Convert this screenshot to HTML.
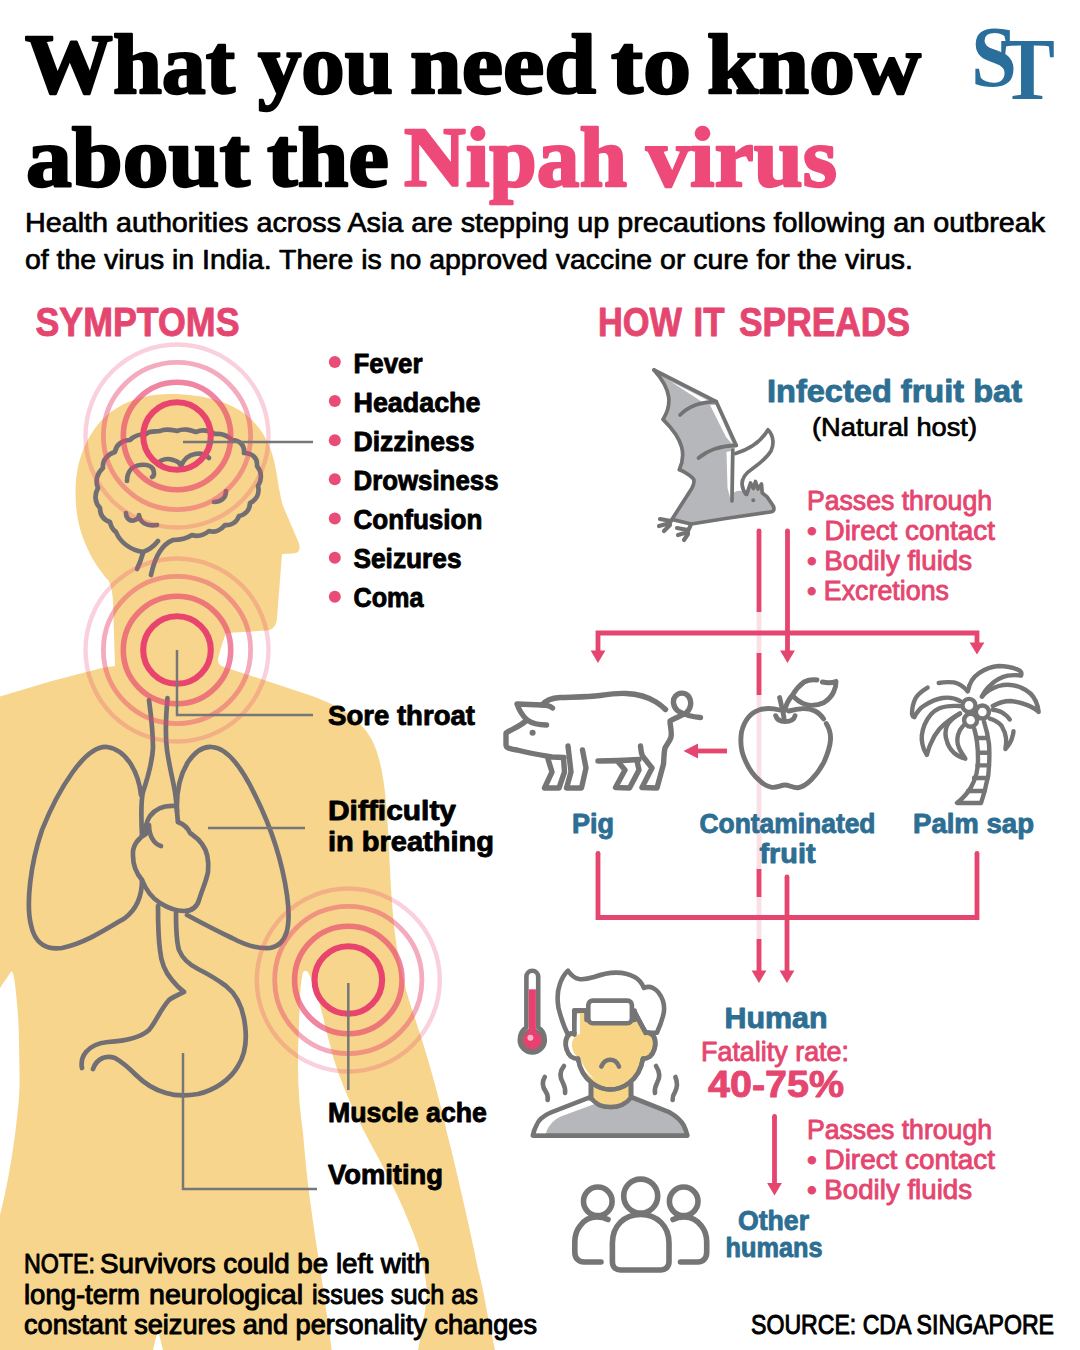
<!DOCTYPE html>
<html><head><meta charset="utf-8">
<style>
html,body{margin:0;padding:0;background:#fff;}
body{width:1080px;height:1350px;overflow:hidden;}
svg{display:block;}
text{font-family:"Liberation Sans",sans-serif;stroke:#000;stroke-width:.7px;stroke-linejoin:round;}
.serif, .serif text{font-family:"Liberation Serif",serif;font-weight:bold;}
.b, .b text{font-weight:bold;stroke-width:.9px;}
.t1 text{fill:#000;stroke:#000;stroke-width:2.4px;}
.t2 text{fill:#ee4a79;stroke:#ee4a79;stroke-width:2.4px;}
.pk, .pk text{fill:#e5466f;stroke:#e5466f;}
.pr text{stroke-width:.9px;}
.md text{stroke-width:1px;}
.bl, .bl text{fill:#2d6e93;stroke:#2d6e93;}
.g{fill:none;stroke:#757575;stroke-linecap:round;stroke-linejoin:round;}
.ln{fill:none;stroke:#777;stroke-width:2.5;stroke-linecap:butt;stroke-linejoin:miter;}
.ar{fill:none;stroke:#e5466f;stroke-width:4.8;stroke-linecap:butt;stroke-linejoin:miter;}
</style></head><body>
<svg width="1080" height="1350" viewBox="0 0 1080 1350">
<rect width="1080" height="1350" fill="#fff"/>

<!-- BODY SILHOUETTE -->
<g id="body" fill="#f7d58c">
<path d="M115,666 L113,600 C112,590 111,584 108,580 C92,562 78,535 76,505 C73,465 85,440 100,422 C118,402 145,394 170,394 C205,394 235,403 252,420 C265,433 272,450 275,465 C278,480 279,492 283,506 L298,541 C301,548 300,553 293,553.500 L282,554 L277,618 C276.500,626 273,630 266,630.500 L226,633 C222,644 219,654 218,659 C217.500,663 219,665.500 224,667 L267,681 L300,692
 C338,704 360,718 372,740 C383,762 386,795 388,830 C389,845 389.500,860 390,870 C391,890 392,905 394,925 C397,955 403,980 409,1000 C417,1025 424,1045 430,1066.700 C436,1088 442,1110 447,1133 C453,1156 458,1178 463,1200 C468,1222 473,1244 477.500,1266.700 C481,1280 484,1295 487,1312 C490,1327 493,1340 495,1350
 L418,1350 C421,1335 425,1315 427,1295 C427,1285 425,1275 423,1266.700 C420,1250 415,1236 408,1220 C402,1205 395,1190 388,1176.700 C378,1156 365,1135 355,1113 C347,1096 340,1078 334,1060 C330,1045 326,1030 323,1016.700 C319,1000 314,985 309,974 C307,969.500 303.500,969.500 302.500,974 C301,982 300,991 300,1000 C299,1022 298,1044 298,1066.700 C298,1090 300,1112 303,1133 C305,1156 307,1178 310,1200 C313,1222 316,1244 320,1266.700 C324,1295 328,1322 331.700,1350
 L0,1350 L0,1215 C6,1192 12,1160 16,1126.700 C18,1110 19.600,1095 19.600,1082 C19.600,1064 19,1046 18.700,1029 C18,1012 16.500,997 15,984 C14,976 12.500,969 10.500,972.500 C7,978 3,983 0,988 L0,696.500 L50,681.500 L100,668.500 C106,667 111,666.500 115,666 Z"/>
<path fill="#fff" d="M153,1350 C155,1342 156.500,1335 158,1331 C159.500,1335 161,1342 163,1350 Z"/>
</g>

<!-- ORGANS -->
<g id="organs" class="g" stroke-width="4.700" style="stroke:#716e74">
<!-- brain -->
<path d="M146,434 C150,430 156,432 160,431 C166,428 172,430 177,431 C184,428 190,430 196,432 C203,429 210,431 215,434 C222,433 228,436 232,440 C240,440 245,446 244,453 C252,453 258,458 257,466 C262,472 262,480 258,486 C260,494 256,500 250,503 C250,510 245,515 239,516 C237,522 231,526 225,525 C221,530 215,533 209,531 C204,535 198,537 192,535 C186,539 180,540 173,540 C163,544 155,556 151,575"/>
<path d="M146,434 C140,434 134,436 130,440 C122,440 116,445 115,452 C108,454 102,460 103,468 C97,473 95,481 98,488 C94,495 95,503 100,508 C100,515 104,520 110,522 C111,527 113,530 116,532 C120,542 130,550 143,552 C149,550 154,546 158,541"/>
<path d="M143,553 C141,560 139,565 137,569"/>
<path d="M127,481 C127,472 132,466 140,465 C146,464 151,466 153,469"/>
<path d="M153,469 C155,474 154,476 152,477"/>
<path d="M158,463 C162,459 168,458 173,460 C177,461 180,463 181,466 C184,459 189,455 195,454 C201,453 206,455 209,458"/>
<path d="M214,502 C220,502 226,499 226,491"/>
<path d="M126,513 C126,519 131,522 135,520 C138,519 139,517 139,515 C140,522 146,527 157,525"/>
<!-- trachea -->
<path d="M149,700 C151,715 153,735 153,748 C152,765 147,780 143,792 C141,800 141,815 142,836"/>
<path d="M167.500,698 C166,715 165,735 167,750 C169,765 173,780 175,792 C177,805 177,815 178,822"/>
<!-- left lung -->
<path d="M141,795 C139,775 128,750 107,747 C85,745 58,790 42,830 C30,865 26,905 31,925 C35,945 48,950 62,948 C85,943 105,930 125,918 C138,908 142,895 142,880"/>
<!-- right lung -->
<path d="M177,812 C176,790 180,775 188,762 C195,752 203,746 212,747 C228,748 243,770 255,795 C270,825 282,860 287,895 C291,925 288,945 270,948 C258,949 245,945 232,938 C215,930 200,922 187,915"/>
<!-- heart -->
<path d="M176,806 C166,805 156,808 150,816 C146,822 145,828 146,834 C138,838 132,846 133,856 C133,866 137,874 142,880 C146,890 152,898 160,903 C168,908 176,911 184,911 C192,911 197,907 199,900 C202,890 206,882 208,872 C209,862 208,852 202,844 C198,838 194,836 190,833 C188,828 183,824 178,822"/>
<path d="M149,825 C149,836 154,844 161,846"/>
<!-- esophagus + stomach -->
<path d="M158,906 C158,920 158,935 160,950 C161,962 165,972 172,980 C176,985 180,989 184,992 C178,995 173,997 169,1000 C160,1010 156,1022 149,1030 C140,1038 125,1041 108,1042 C98,1043 90,1047 86,1052 C82,1057 81,1063 82,1068"/>
<path d="M176,913 C176,925 176,940 179,950 C183,960 190,965 198,969 C208,974 218,980 226,986 C236,994 243,1008 245,1025 C247,1040 245,1055 238,1066 C230,1080 215,1090 198,1094 C187,1096 176,1096 166,1093 C155,1090 145,1084 136,1075 C128,1067 122,1062 115,1058 C106,1055 97,1058 93,1069"/>
</g>

<!-- RINGS -->
<g id="rings" fill="none">
<g transform="translate(177,436)">
<circle r="91.500" stroke="#e8446e" stroke-opacity="0.25" stroke-width="4.400"/>
<circle r="73.600" stroke="#e8446e" stroke-opacity="0.45" stroke-width="4.800"/>
<circle r="53.700" stroke="#e8446e" stroke-opacity="0.65" stroke-width="5.600"/>
<circle r="33.800" stroke="#e8446e" stroke-width="6.100"/>
</g>
<g transform="translate(177,650)">
<circle r="91.500" stroke="#e8446e" stroke-opacity="0.25" stroke-width="4.400"/>
<circle r="73.600" stroke="#e8446e" stroke-opacity="0.45" stroke-width="4.800"/>
<circle r="53.700" stroke="#e8446e" stroke-opacity="0.65" stroke-width="5.600"/>
<circle r="33.800" stroke="#e8446e" stroke-width="6.100"/>
</g>
<g transform="translate(348.300,980)">
<circle r="91.500" stroke="#e8446e" stroke-opacity="0.25" stroke-width="4.400"/>
<circle r="73.600" stroke="#e8446e" stroke-opacity="0.45" stroke-width="4.800"/>
<circle r="53.700" stroke="#e8446e" stroke-opacity="0.65" stroke-width="5.600"/>
<circle r="33.800" stroke="#e8446e" stroke-width="6.100"/>
</g>
</g>

<!-- LEADER LINES -->
<g id="leaders" class="ln">
<path d="M183,442 H313"/>
<path d="M177,650 V715 H313"/>
<path d="M208,828 H305"/>
<path d="M348.300,983 V1090"/>
<path d="M183,1053 V1189 H317"/>
</g>

<!-- ARROWS -->
<g id="arrows">
<path d="M759,612 V972" stroke="#fbdfe6" stroke-width="4.800" fill="none"/>
<g class="ar">
<path d="M759,531 V612 M759,653 V695 M759,869 V897 M759,939 V972"/>
<path d="M787.500,531 V652"/>
<path d="M598,652 V633 H977 V644"/>
<path d="M727,751 H697"/>
<path d="M598,853.400 V917.500 H977 V853.400"/>
<path d="M787,877 V972"/>
<path d="M774.500,1116.500 V1184"/>
</g>
<g fill="#e5466f">
<circle cx="759" cy="531" r="2.400"/><circle cx="787.500" cy="531" r="2.400"/><circle cx="598" cy="853.400" r="2.400"/><circle cx="977" cy="853.400" r="2.400"/><circle cx="774.500" cy="1116.500" r="2.400"/><circle cx="787" cy="877" r="2.400"/>
<path d="M751.600,970.500 h14.800 l-7.400,12.500 z"/>
<path d="M780.100,650.500 h14.800 l-7.400,12.500 z"/>
<path d="M590.600,650.500 h14.800 l-7.400,12.500 z"/>
<path d="M969.600,642.500 h14.800 l-7.400,12 z"/>
<path d="M779.600,970.500 h14.800 l-7.400,12.500 z"/>
<path d="M767.100,1183 h14.800 l-7.400,12.500 z"/>
<path d="M698,743.600 v14.800 l-14.500,-7.400 z"/>
</g>
</g>

<!-- TEXT -->
<g id="text">
<g class="serif" font-size="85.5" stroke-width="2.4" stroke-linejoin="round" lengthAdjust="spacingAndGlyphs">
<g class="t1">
<text x="25" y="93" textLength="210" lengthAdjust="spacingAndGlyphs">What</text>
<text x="258" y="93" textLength="135" lengthAdjust="spacingAndGlyphs">you</text>
<text x="410" y="93" textLength="186" lengthAdjust="spacingAndGlyphs">need</text>
<text x="611" y="93" textLength="80" lengthAdjust="spacingAndGlyphs">to</text>
<text x="707" y="93" textLength="214" lengthAdjust="spacingAndGlyphs">know</text>
<text x="26" y="186" textLength="224" lengthAdjust="spacingAndGlyphs">about</text>
<text x="267" y="186" textLength="122" lengthAdjust="spacingAndGlyphs">the</text>
</g>
<g class="t2">
<text x="404" y="186" textLength="223" lengthAdjust="spacingAndGlyphs">Nipah</text>
<text x="646" y="186" textLength="191" lengthAdjust="spacingAndGlyphs">virus</text>
</g>
</g>
<text x="25" y="232" font-size="27.5" textLength="1020" lengthAdjust="spacingAndGlyphs">Health authorities across Asia are stepping up precautions following an outbreak</text>
<text x="25" y="268.600" font-size="27.5" textLength="888" lengthAdjust="spacingAndGlyphs">of the virus in India. There is no approved vaccine or cure for the virus.</text>

<g class="b pk" font-size="40.5">
<text x="35.500" y="336.300" textLength="204" lengthAdjust="spacingAndGlyphs">SYMPTOMS</text>
<text x="598" y="336.300" textLength="84" lengthAdjust="spacingAndGlyphs">HOW</text>
<text x="693.500" y="336.300" textLength="31" lengthAdjust="spacingAndGlyphs">IT</text>
<text x="739" y="336.300" textLength="171" lengthAdjust="spacingAndGlyphs">SPREADS</text>
</g>

<g class="b" font-size="28.3">
<text x="353.5" y="372.50" textLength="69" lengthAdjust="spacingAndGlyphs">Fever</text>
<text x="353.5" y="411.65" textLength="127" lengthAdjust="spacingAndGlyphs">Headache</text>
<text x="353.5" y="450.80" textLength="121" lengthAdjust="spacingAndGlyphs">Dizziness</text>
<text x="353.5" y="489.95" textLength="145" lengthAdjust="spacingAndGlyphs">Drowsiness</text>
<text x="353.5" y="529.10" textLength="129" lengthAdjust="spacingAndGlyphs">Confusion</text>
<text x="353.5" y="568.25" textLength="108" lengthAdjust="spacingAndGlyphs">Seizures</text>
<text x="353.5" y="607.40" textLength="70" lengthAdjust="spacingAndGlyphs">Coma</text>
<text x="328" y="725" textLength="147" lengthAdjust="spacingAndGlyphs">Sore throat</text>
<text x="328" y="820" textLength="128" lengthAdjust="spacingAndGlyphs">Difficulty</text>
<text x="328" y="851" textLength="166" lengthAdjust="spacingAndGlyphs">in breathing</text>
<text x="328" y="1121.500" textLength="159" lengthAdjust="spacingAndGlyphs">Muscle ache</text>
<text x="328" y="1184" textLength="115" lengthAdjust="spacingAndGlyphs">Vomiting</text>
</g>
<g fill="#ea4c78">
<circle cx="334.8" cy="361.90" r="6"/><circle cx="334.8" cy="401.05" r="6"/><circle cx="334.8" cy="440.20" r="6"/><circle cx="334.8" cy="479.35" r="6"/><circle cx="334.8" cy="518.50" r="6"/><circle cx="334.8" cy="557.65" r="6"/><circle cx="334.8" cy="596.80" r="6"/>
</g>

<g class="md" font-size="27.800">
<text x="24" y="1272.500" textLength="71" lengthAdjust="spacingAndGlyphs">NOTE:</text>
<text x="100" y="1272.500" textLength="330" lengthAdjust="spacingAndGlyphs">Survivors could be left with</text>
<text x="24" y="1303.500" textLength="116" lengthAdjust="spacingAndGlyphs">long-term</text>
<text x="149" y="1303.500" textLength="154" lengthAdjust="spacingAndGlyphs">neurological</text>
<text x="312" y="1303.500" textLength="166" lengthAdjust="spacingAndGlyphs">issues such as</text>
<text x="24" y="1334" textLength="513" lengthAdjust="spacingAndGlyphs">constant seizures and personality changes</text>
<text x="751" y="1334" textLength="303" lengthAdjust="spacingAndGlyphs">SOURCE: CDA SINGAPORE</text>
</g>

<text class="b bl" x="767" y="401.500" font-size="31" textLength="255" lengthAdjust="spacingAndGlyphs">Infected fruit bat</text>
<text x="812" y="436" font-size="26" textLength="165" lengthAdjust="spacingAndGlyphs">(Natural host)</text>
<g class="pk pr" font-size="27">
<text x="807" y="509.7" textLength="185" lengthAdjust="spacingAndGlyphs">Passes through</text>
<text x="807" y="539.7" textLength="188" lengthAdjust="spacingAndGlyphs">• Direct contact</text>
<text x="807" y="569.7" textLength="165" lengthAdjust="spacingAndGlyphs">• Bodily fluids</text>
<text x="807" y="599.7" textLength="142" lengthAdjust="spacingAndGlyphs">• Excretions</text>
<text x="701" y="1061" textLength="148" lengthAdjust="spacingAndGlyphs">Fatality rate:</text>
<text x="807" y="1138.7" textLength="185" lengthAdjust="spacingAndGlyphs">Passes through</text>
<text x="807" y="1168.7" textLength="188" lengthAdjust="spacingAndGlyphs">• Direct contact</text>
<text x="807" y="1198.7" textLength="165" lengthAdjust="spacingAndGlyphs">• Bodily fluids</text>
</g>
<text class="b pk" x="708" y="1097" font-size="36" textLength="136" lengthAdjust="spacingAndGlyphs">40-75%</text>
<g class="b bl" font-size="27">
<text x="572" y="833" textLength="42" lengthAdjust="spacingAndGlyphs">Pig</text>
<text x="699.500" y="833" textLength="176" lengthAdjust="spacingAndGlyphs">Contaminated</text>
<text x="759.500" y="862.800" textLength="56" lengthAdjust="spacingAndGlyphs">fruit</text>
<text x="913" y="833" textLength="121" lengthAdjust="spacingAndGlyphs">Palm sap</text>
<text x="724.500" y="1028" font-size="30" textLength="103" lengthAdjust="spacingAndGlyphs">Human</text>
<text x="738" y="1230" textLength="71" lengthAdjust="spacingAndGlyphs">Other</text>
<text x="725.500" y="1257" textLength="97" lengthAdjust="spacingAndGlyphs">humans</text>
</g>
</g>

<!-- ICONS placeholder -->
<g id="icons">
<g id="bat" stroke="#737373" stroke-width="3.700" stroke-linecap="round" stroke-linejoin="round" fill="none">
<path stroke="none" fill="#b5b7ba" d="M654,370 L716.300,401.700 L736.300,445.400 L733,452 L732.500,494 C737,489 742,490 746.700,494.300 L751.100,482.400 L753.500,488.500 L755,481 L758,489 L761.500,484 L762.200,492.800 L767.400,497.200 L773.300,506 C775,510 773,512 770.400,512 L728.900,518 L691.100,524 L671.900,519.400 L691.900,488.300 C694,484 695,480 692.600,478 C688,474 683,471 679.300,469.800 C686,455 684,440 663,419.400 C672,405 672,390 654,370 Z"/>
<path d="M746.700,494.300 L750.500,483 L753.500,488.500 L755.500,481.500 L758,489 L761.500,484 L762.200,492.800 L767.400,497.200 L773.300,506 C775,510 773,512 770.400,512 L728.900,518 L691.100,524 L671.900,519.400 L691.900,488.300 C694,484 695,480 692.600,478 C688,474 683,471 679.300,469.800 C686,455 684,440 663,419.400 C672,405 672,390 654,370"/>
<path stroke="none" fill="#fff" d="M670,381 L712,402.500 L703,402.500 Z"/>
<path stroke="none" fill="#fff" d="M710,405 L716,405 L733,445 L726,437 Z"/>
<path stroke="none" fill="#fff" d="M726.500,452 L731,451 L730.500,499 L727.500,488 Z"/>
<path d="M654,370 L716.300,401.700 L736.300,445.400"/>
<path d="M680,415 Q693,402 716.300,401.700"/>
<path d="M698.500,458 Q713,446 736.300,445.400"/>
<path d="M732.800,450 L732,501"/>
<path fill="#fff" d="M735.600,453.500 C750,449 762,440 768,429.800 C774,436 774,445 771,451 C766,459 759,464 752,469 C746,473 742,478 742,484 C742.500,489 744,492 746,494.300"/>
<circle cx="753.300" cy="500.200" r="1.300" fill="#737373" stroke-width="1.500"/>
<g stroke-width="4.200">
<path d="M671,521 L660,519 M670,523 L659,526 M670,525 L664,531"/>
<path d="M691,524 C690,528 688,530 687,533 M688,530 L677,528 M688,532 L678,535 M688,534 L684,540"/>
</g>
</g>
</g>
<g id="pig" class="g" stroke-width="5.400">
<path d="M542,705 C546,700 552,698 560,697.500 C575,697 590,697 600,695.500 C610,694 618,693 626,693.500 C638,694 648,697 656,702 C660,704.500 663,707 665.500,709.500"/>
<path d="M552.500,708 C550,706 546,705 542,705 L517,704 C519,710 523,716 527,720 C533,724 540,725 546.500,725"/>
<path d="M527,720 C521,726 512,729 506,733 L506,745 C506,748 510,749 517,750 C528,753 540,755 552,757 L564,757.500"/>
<circle cx="532.600" cy="732.800" r="2.300" fill="#777" stroke-width="1.500"/>
<path d="M548,759 L552,772 L544.500,788 L559,788 L564.500,772 L563.500,758"/>
<path d="M568,746 L571,772 L566.500,788 L581.500,788 L586,768 L582.500,750"/>
<path d="M598,761 C612,761 626,760.500 639,759.500"/>
<path d="M619,763 L625,770 L615.500,787.500 L629.500,788 L639,770 L637,761"/>
<path d="M640.500,746 C641,750 641,753 642.500,756 L652,768 L642,787.500 L657,788 L663.500,764 C664,757 664,752 665,748 C667,744 670,741 671,737 C672,731 670,726 670,721 C675,718 681,716 686,713 C691,709 692,702 689,697 C686,692 679,692 675.500,696 C672,700 673,707 678,711 C685,715 693,717 700.500,717.500"/>
</g>
<g id="apple" class="g" stroke-width="4.900">
<path d="M779.600,710 C772,708 765,708 759,710 C750,713 744,722 741.500,732 C740,742 741,752 745.500,761 C749,769 753,775 759,780 C763,784 767,786.500 772,787.300 C777,788 781,785 785,785 C789,785 793,788 798,787.700 C803,787 807,784 811,780 C817,774 821,768 824,762 C828,753 830,747 830.500,740 C831,733 829,728 826.300,723.500"/>
<path d="M823.700,719 C821,715 818,712.500 815,711 C811,709 807,708.500 803,708.600 C798,709 793,710 788.700,711"/>
<path d="M779.600,697.600 C781,704 783,711 784,718"/>
<path d="M775.700,715.700 C777,720 781,721.500 785,721.500 C790,721.500 794,720 795,715.700"/>
<path d="M784.800,710.600 C786,704 789,699 792.600,695 C796,689 800,685 804,682 C808,680 813,679.500 817,680"/>
<path d="M822.400,682 C827,683 832,683 836,681.400 C836,685 835.500,688 834,691 C832,696 828,700 823.700,702.800 C819,705 815,705.500 810.700,705.400 C804,705 798,701 793.900,697"/>
</g>
<g id="palm" class="g" stroke-width="4.400">
<circle cx="969" cy="705.400" r="6.500"/><circle cx="982.400" cy="712" r="6.500"/><circle cx="970.600" cy="720.200" r="6.500"/>
<path d="M974.300,729 C977,738 978,748 978,758.700 C978,764 977.500,769 976.500,773.500 C975,779 973,784 970.600,788 C967,794 962,799 957,803 L981,803 C983,797 985,791 986,785 C988,779 989,772 989,766 C989.500,758 989.500,751 989,744 C988,736 986,728 984,721.700"/>
<path d="M977.500,738 H987.500 M978.500,752.800 H989 M977.500,765.400 H989 M974,778 H987.500 M968,791 H984.500"/>
<path d="M968,691 C969,684 973,677 979.400,672.800 C985,669 992,666.500 998.700,666 C1006,666 1012,667 1018,669.800 C1021,671 1022,673 1021,675.700 C1017,675 1012,675 1007.600,675.700 C1001,677 996,680 991,684.600 C987,688 984,692 982,696.500"/>
<path d="M982,696.500 C987,691 992,688 998.700,686 C1006,684 1014,684.500 1021,687.600 C1028,690.500 1033,695 1035.700,701 C1037,704 1038.500,708 1038.700,712 C1036,709 1032,707 1028,705.400 C1022,703 1016,701.500 1010.600,701 C1004,701 998,703 992.800,706"/>
<path d="M992.800,709.800 C998,710.500 1002,712 1004.600,714.300 C1007,716 1008.500,717.500 1009.800,719.400"/>
<path d="M989.800,718.700 C995,720 999,723 1001.700,726 C1004,730 1005.500,734 1006,738 C1006.500,742 1006,746 1005.400,749 C1009,745 1011,742 1012,738 C1013,735 1013.500,733 1013.500,731.300"/>
<path d="M938.700,683 C944,682 949,682 954,682.400 C960,683.500 964,687 967.600,691.300"/>
<path d="M927.600,687.600 C922,691 918,694 915.700,698 C913,703 912,708 912,714 C912.500,716 913,717 914.300,717.200 C917,712 920,708 924.600,705.400 C930,702 936,699 942.400,698 C949,697 955,698 960,701"/>
<path d="M960,706 C952,705.500 945,706 939.400,708.300 C933,711 928,717 924.600,724.600 C922,731 921,738 922.400,744 C923,748 925,752 926.900,755 C928,751 929,747 930.600,744 C933,738 936,733 939.400,729 C945,723 952,718 960,713.500"/>
<path d="M960,713.500 C954,717 949,721 946.900,726 C945,731 945,736 946.900,741 C948,746 951,750 954,752.800 C957,755.500 961,757.500 965.400,758.700 C963,755 960,751 958.700,747 C957,743 957,739 958,735 C959,731 961,728 963,726"/>
</g>
<g id="sick" class="g" stroke-width="4.600">
<!-- thermometer -->
<path fill="#fff" d="M526.400,1027.500 V977 C526.400,968.700 538.200,968.700 538.200,977 V1027.500 C542.500,1030 544.800,1034.500 544.800,1040 C544.800,1047 539,1052.500 532.300,1052.500 C525.600,1052.500 519.800,1047 519.800,1040 C519.800,1034.500 522,1030 526.400,1027.500 Z"/>
<circle cx="532.300" cy="1040" r="11.500" fill="#757575" stroke="none"/>
<rect x="528.700" y="989.300" width="7.200" height="46" fill="#e8416f" stroke="none"/>
<circle cx="532.300" cy="1040" r="9.300" fill="#e8416f" stroke="none"/>
<circle cx="530.400" cy="1037.800" r="3" fill="#f9b4c8" stroke="none"/>
<!-- shirt -->
<path fill="#b5b7ba" d="M591,1097 L551.300,1112.400 C543,1116 538,1121 536.500,1125.400 C534.500,1129 533.500,1132 532.800,1135.600 H687.400 C686.500,1132 685.500,1129 683.700,1125.400 C681,1120 676,1116 669.800,1112.400 L631,1097 C626,1104 618,1107 610.600,1107 C603,1107 595,1104 591,1097 Z"/>
<path stroke="none" fill="#fff" d="M588,1100.500 L552,1114.500 C544,1118 540,1122 538.500,1126.500 C537.300,1129 536.500,1131 536,1133.300 H546 C548,1126 553,1120 562,1116 L596,1103.500 Z"/>
<!-- neck -->
<path fill="#f8d487" d="M591,1080 V1097.600 C595,1104 603,1107 610.600,1107 C618,1107 626,1104 631,1097.600 V1080 Z"/>
<!-- hair (white) -->
<path fill="#fff" d="M568,1034.600 C564,1027 561,1018 558.500,1008 C557,999 557.500,991 559.600,985 C561.500,979 564.500,974 568,970.700 C571,975 574,978 579,979 C584,979.800 589,978.500 594,977 C601,974.500 609,972.500 616,972.600 C623,972.500 629,974 634.600,977 C639,979.500 642,983 643.900,988 C647,986.500 650,986.500 653,988 C658,990.500 661,995 663,1001 C664.500,1006 664.500,1011 663,1016 C661.500,1022 659.500,1027 656.900,1032.800 L645.700,1032.800 L634.600,1012 V1010.600 H586.500 H574.400 V1034.600 Z"/>
<!-- face -->
<path fill="#f8d487" d="M574.400,1010.600 H586.500 V1020 H634.600 V1012 C638,1019 642,1026 645.700,1032.800 C650,1032 654,1035 655,1040 C656,1046 654,1053 650,1056.500 C648,1058 645.500,1058.700 643,1058.700 C641,1070 636,1078 629,1083 C623,1087.500 617,1089.500 610.300,1089.500 C604,1089.500 598,1087.500 592,1083 C585,1078 580,1070 578,1058.700 C575.500,1058.700 573,1058 571,1056.500 C567,1053 565,1046 566,1040 C567,1035 570.500,1032 574.400,1033.500 Z"/>
<path stroke="none" fill="#fff" d="M577,1014 H580 V1034 C575,1035 572,1039 572,1045 C572,1051 575,1056 580,1058 C583,1066 588,1074 595,1079 C587,1075 580,1067 578,1059.500 C573,1059 569,1054 568,1047 C567.500,1041 570,1036 574.400,1035.500 Z"/>
<path d="M574.400,1034.600 V1010.600 H586.500"/>
<path d="M634.600,1012 C638,1019 642,1026 645.700,1032.800"/>
<path d="M574.400,1033.500 C570.500,1032.500 567,1035 566,1040 C565,1046 567,1053 571,1056.500 C573,1058 575.500,1058.700 578,1058.700"/>
<path d="M645.700,1032.800 C650,1032 654,1035 655,1040 C656,1046 654,1053 650,1056.500 C648,1058 645.500,1058.700 643,1058.700"/>
<path d="M578,1058.700 C580,1070 585,1078 592,1083 C598,1087.500 604,1089.500 610.300,1089.500 C617,1089.500 623,1087.500 629,1083 C636,1078 641,1070 643,1058.700"/>
<path d="M591,1083 V1097.600 M631,1083 V1097.600"/>
<!-- towel -->
<rect x="588.300" y="1000.600" width="43.600" height="22.700" rx="4.500" fill="#fff"/>
<!-- mouth -->
<path d="M601.300,1066.500 C603.500,1061.500 607,1059.700 610.200,1059.700 C613.500,1059.700 617,1061.500 619,1066.500"/>
<!-- shivers -->
<path d="M544.800,1077 C541,1083 543,1088 546,1092 C548,1095 548,1098 547.600,1100"/>
<path d="M564,1066 C559,1072 560,1078 563,1083 C565,1087 565.500,1090 565,1093"/>
<path d="M656,1066 C660,1072 660,1078 657,1083 C655,1087 654.500,1090 655,1093"/>
<path d="M675.400,1077 C678,1083 677,1088 675,1092 C673,1095 672.500,1098 672.600,1100"/>
</g>
<g id="group" class="g" stroke-width="5.600">
<circle cx="640.700" cy="1196.100" r="17"/>
<path d="M612.400,1243 C612.400,1226 624,1214.500 640.700,1214.500 C657,1214.500 669,1226 669,1243 V1262 C669,1267 665,1270 661,1270 H620.400 C616,1270 612.400,1267 612.400,1262 Z"/>
<circle cx="597.800" cy="1201.300" r="14.300"/>
<path d="M608,1219.500 C604,1217.500 600,1217 597,1217 C590,1217 584,1220 580,1226 C576,1231 574.800,1236 574.800,1242 V1252 C574.800,1258 578,1262 584,1262 H601"/>
<circle cx="683.700" cy="1201.300" r="14.300"/>
<path d="M673,1219.500 C677,1217.500 681,1217 684.400,1217 C691,1217 697,1220 701.500,1226 C705.500,1231 706.700,1236 706.700,1242 V1252 C706.700,1258 703.500,1262 697.800,1262 H680.500"/>
</g>
</g>

<!-- ST LOGO -->
<g id="logo" fill="#2a6e9b" stroke="none" style="stroke:none">
<text class="serif" style="stroke:none" x="971" y="85.5" font-size="87" textLength="46" lengthAdjust="spacingAndGlyphs">S</text>
<text class="serif" style="stroke:none" x="1000" y="98.5" font-size="88" textLength="55" lengthAdjust="spacingAndGlyphs">T</text>
</g>
</svg>
</body></html>
